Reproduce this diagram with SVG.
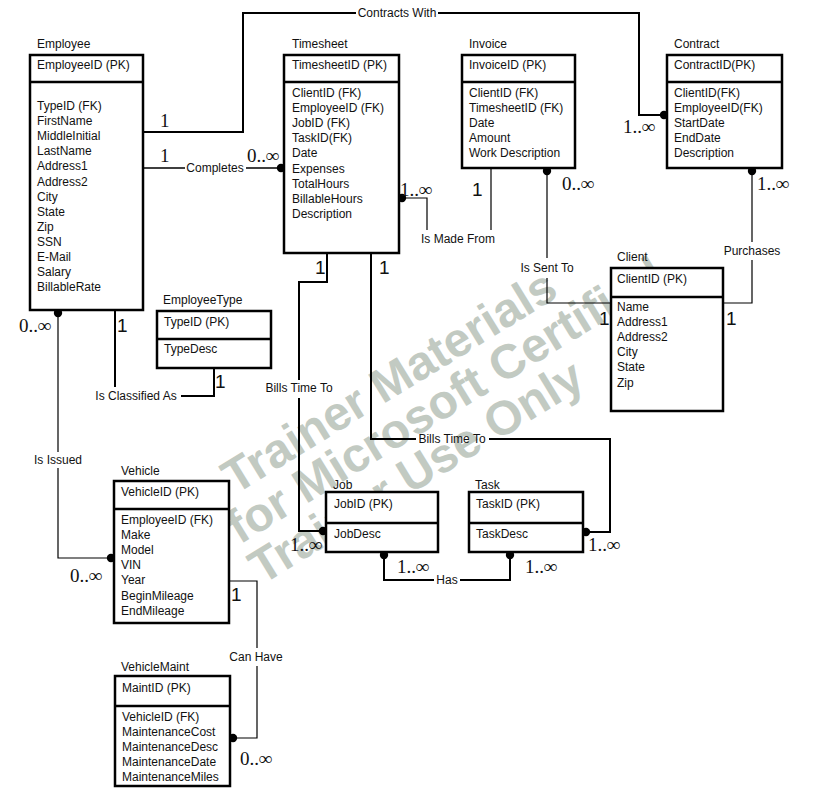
<svg xmlns="http://www.w3.org/2000/svg" width="815" height="800" viewBox="0 0 815 800">
  <style>
    .box { fill: #fff; stroke: #000; stroke-width: 2.5; }
    .sep { stroke: #000; stroke-width: 2.5; }
    .t { font-family: "Liberation Sans", Arial, sans-serif; font-size: 12px; fill: #111; }
    .lbl { font-family: "Liberation Sans", Arial, sans-serif; font-size: 12px; fill: #111; text-anchor: middle; }
    .c1 { font-family: "Liberation Sans", Arial, sans-serif; font-size: 19px; fill: #111; }
    .cs { font-family: "Liberation Serif", "Times New Roman", serif; font-size: 19px; fill: #111; }
    .inf { font-weight: bold; }
    .thick { fill: none; stroke: #000; stroke-width: 2; }
    .thin { fill: none; stroke: #000; stroke-width: 1.2; }
    .dot { fill: #000; }
    .wm { font-family: "Liberation Sans", Arial, sans-serif; font-weight: bold; font-size: 48px; fill: #c2cac2; }
  </style>

  <!-- background watermark -->
  <g id="watermark" transform="translate(235 495) rotate(-31.5)">
    <text class="wm" x="0" y="0">Trainer Materials</text>
    <text class="wm" x="-22" y="45">for Microsoft Certified</text>
    <text class="wm" x="-24" y="91">Trainer Use Only</text>
  </g>

  <!-- relationship lines -->
  <g id="connectors">
    <!-- Contracts With -->
    <path class="thick" d="M143,132 H243 V13 H356 M438,13 H639 V115 H664"/>
    <circle class="dot" cx="664" cy="115" r="4.2"/>
    <text class="lbl" x="397" y="17">Contracts With</text>

    <!-- Completes -->
    <path class="thick" style="stroke-width:1.6" d="M143,168 H185 M246,168 H281"/>
    <circle class="dot" cx="281" cy="168" r="4.2"/>
    <text class="lbl" x="215" y="172">Completes</text>

    <!-- Is Made From -->
    <path class="thin" d="M402,198 H427 V230 M491,168 V230"/>
    <circle class="dot" cx="402" cy="198" r="4.2"/>
    <text class="lbl" x="458" y="243">Is Made From</text>

    <!-- Is Sent To -->
    <path class="thin" d="M547,171 V258 M547,278 V303 H611"/>
    <circle class="dot" cx="547" cy="171" r="4.2"/>
    <text class="lbl" x="547" y="272">Is Sent To</text>

    <!-- Purchases -->
    <path class="thin" d="M752,171 V242 M752,260 V303 H723"/>
    <circle class="dot" cx="752" cy="171" r="4.2"/>
    <text class="lbl" x="752" y="255">Purchases</text>

    <!-- Is Classified As -->
    <path class="thick" d="M115,310 V387 M181,396 H214 V368"/>
    <text class="lbl" x="136" y="400">Is Classified As</text>

    <!-- Is Issued -->
    <path class="thin" d="M58,313 V452 M58,468 V558 H111"/>
    <circle class="dot" cx="58" cy="313" r="4.2"/>
    <circle class="dot" cx="111" cy="558" r="4.2"/>
    <text class="lbl" x="58" y="464">Is Issued</text>

    <!-- Can Have -->
    <path class="thin" d="M229,581 H257 V648 M257,666 V738 H233"/>
    <circle class="dot" cx="233" cy="738" r="4.2"/>
    <text class="lbl" x="256" y="661">Can Have</text>

    <!-- Bills Time To (Job) -->
    <path class="thick" d="M327,253 V282 H299 V380 M299,398 V531 H323"/>
    <circle class="dot" cx="323" cy="531" r="4.2"/>
    <text class="lbl" x="299" y="392">Bills Time To</text>

    <!-- Bills Time To (Task) -->
    <path class="thick" d="M371,253 V439 H416 M489,439 H610 V532 H586"/>
    <circle class="dot" cx="586" cy="532" r="4.2"/>
    <text class="lbl" x="452" y="443">Bills Time To</text>

    <!-- Has -->
    <path class="thick" d="M384,555 V580 H434 M460,580 H510 V555"/>
    <circle class="dot" cx="384" cy="555" r="4.2"/>
    <circle class="dot" cx="510" cy="555" r="4.2"/>
    <text class="lbl" x="447" y="584">Has</text>

    <!-- cardinalities -->
    <text class="cs" x="160" y="127">1</text>
    <text class="cs" x="160" y="162">1</text>
    <text class="cs" x="247" y="162">0..<tspan class="inf">∞</tspan></text>
    <text class="cs" x="400" y="196">1..<tspan class="inf">∞</tspan></text>
    <text class="c1" x="472" y="196">1</text>
    <text class="cs" x="562" y="190">0..<tspan class="inf">∞</tspan></text>
    <text class="cs" x="623" y="133">1..<tspan class="inf">∞</tspan></text>
    <text class="cs" x="757" y="190">1..<tspan class="inf">∞</tspan></text>
    <text class="c1" x="599" y="325">1</text>
    <text class="c1" x="726" y="325">1</text>
    <text class="c1" x="117" y="332">1</text>
    <text class="cs" x="19" y="332">0..<tspan class="inf">∞</tspan></text>
    <text class="c1" x="215" y="388">1</text>
    <text class="cs" x="70" y="582">0..<tspan class="inf">∞</tspan></text>
    <text class="c1" x="231" y="601">1</text>
    <text class="cs" x="240" y="765">0..<tspan class="inf">∞</tspan></text>
    <text class="c1" x="315" y="274">1</text>
    <text class="c1" x="379" y="274">1</text>
    <text class="cs" x="290" y="551">1..<tspan class="inf">∞</tspan></text>
    <text class="cs" x="588" y="551">1..<tspan class="inf">∞</tspan></text>
    <text class="cs" x="397" y="573">1..<tspan class="inf">∞</tspan></text>
    <text class="cs" x="525" y="573">1..<tspan class="inf">∞</tspan></text>
  </g>

  <!-- entities -->
  <g id="employee">
    <text class="t" x="37" y="48">Employee</text>
    <rect class="box" x="30" y="55" width="113" height="255"/>
    <line class="sep" x1="30" y1="82" x2="143" y2="82"/>
    <text class="t" x="37" y="69">EmployeeID (PK)</text>
    <text class="t" x="37" y="110">TypeID (FK)<tspan x="37" dy="15.1">FirstName</tspan><tspan x="37" dy="15.1">MiddleInitial</tspan><tspan x="37" dy="15.1">LastName</tspan><tspan x="37" dy="15.1">Address1</tspan><tspan x="37" dy="15.1">Address2</tspan><tspan x="37" dy="15.1">City</tspan><tspan x="37" dy="15.1">State</tspan><tspan x="37" dy="15.1">Zip</tspan><tspan x="37" dy="15.1">SSN</tspan><tspan x="37" dy="15.1">E-Mail</tspan><tspan x="37" dy="15.1">Salary</tspan><tspan x="37" dy="15.1">BillableRate</tspan></text>
  </g>

  <g id="timesheet">
    <text class="t" x="292" y="48">Timesheet</text>
    <rect class="box" x="284" y="55" width="115" height="198"/>
    <line class="sep" x1="284" y1="82" x2="399" y2="82"/>
    <text class="t" x="292" y="69">TimesheetID (PK)</text>
    <text class="t" x="292" y="97">ClientID (FK)<tspan x="292" dy="15.1">EmployeeID (FK)</tspan><tspan x="292" dy="15.1">JobID (FK)</tspan><tspan x="292" dy="15.1">TaskID(FK)</tspan><tspan x="292" dy="15.1">Date</tspan><tspan x="292" dy="15.1">Expenses</tspan><tspan x="292" dy="15.1">TotalHours</tspan><tspan x="292" dy="15.1">BillableHours</tspan><tspan x="292" dy="15.1">Description</tspan></text>
  </g>

  <g id="invoice">
    <text class="t" x="469" y="48">Invoice</text>
    <rect class="box" x="462" y="55" width="113" height="113"/>
    <line class="sep" x1="462" y1="82" x2="575" y2="82"/>
    <text class="t" x="469" y="69">InvoiceID (PK)</text>
    <text class="t" x="469" y="97">ClientID (FK)<tspan x="469" dy="15.1">TimesheetID (FK)</tspan><tspan x="469" dy="15.1">Date</tspan><tspan x="469" dy="15.1">Amount</tspan><tspan x="469" dy="15.1">Work Description</tspan></text>
  </g>

  <g id="contract">
    <text class="t" x="674" y="48">Contract</text>
    <rect class="box" x="667" y="55" width="115" height="113"/>
    <line class="sep" x1="667" y1="82" x2="782" y2="82"/>
    <text class="t" x="674" y="69">ContractID(PK)</text>
    <text class="t" x="674" y="97">ClientID(FK)<tspan x="674" dy="15.1">EmployeeID(FK)</tspan><tspan x="674" dy="15.1">StartDate</tspan><tspan x="674" dy="15.1">EndDate</tspan><tspan x="674" dy="15.1">Description</tspan></text>
  </g>

  <g id="client">
    <text class="t" x="617" y="261">Client</text>
    <rect class="box" x="611" y="268" width="112" height="143"/>
    <line class="sep" x1="611" y1="297" x2="723" y2="297"/>
    <text class="t" x="617" y="283">ClientID (PK)</text>
    <text class="t" x="617" y="311">Name<tspan x="617" dy="15.1">Address1</tspan><tspan x="617" dy="15.1">Address2</tspan><tspan x="617" dy="15.1">City</tspan><tspan x="617" dy="15.1">State</tspan><tspan x="617" dy="15.1">Zip</tspan></text>
  </g>

  <g id="employeetype">
    <text class="t" x="163" y="304">EmployeeType</text>
    <rect class="box" x="157" y="311" width="114" height="57"/>
    <line class="sep" x1="157" y1="339" x2="271" y2="339"/>
    <text class="t" x="164" y="326">TypeID (PK)</text>
    <text class="t" x="164" y="353">TypeDesc</text>
  </g>

  <g id="vehicle">
    <text class="t" x="121" y="475">Vehicle</text>
    <rect class="box" x="114" y="481" width="115" height="142"/>
    <line class="sep" x1="114" y1="509" x2="229" y2="509"/>
    <text class="t" x="121" y="496">VehicleID (PK)</text>
    <text class="t" x="121" y="524">EmployeeID (FK)<tspan x="121" dy="15.1">Make</tspan><tspan x="121" dy="15.1">Model</tspan><tspan x="121" dy="15.1">VIN</tspan><tspan x="121" dy="15.1">Year</tspan><tspan x="121" dy="15.1">BeginMileage</tspan><tspan x="121" dy="15.1">EndMileage</tspan></text>
  </g>

  <g id="job">
    <text class="t" x="333" y="489">Job</text>
    <rect class="box" x="326" y="492" width="112" height="60"/>
    <line class="sep" x1="326" y1="523" x2="438" y2="523"/>
    <text class="t" x="334" y="508">JobID (PK)</text>
    <text class="t" x="334" y="538">JobDesc</text>
  </g>

  <g id="task">
    <text class="t" x="475" y="489">Task</text>
    <rect class="box" x="469" y="492" width="114" height="60"/>
    <line class="sep" x1="469" y1="523" x2="583" y2="523"/>
    <text class="t" x="476" y="508">TaskID (PK)</text>
    <text class="t" x="476" y="538">TaskDesc</text>
  </g>

  <g id="vehiclemaint">
    <text class="t" x="121" y="671">VehicleMaint</text>
    <rect class="box" x="115" y="676" width="115" height="110"/>
    <line class="sep" x1="115" y1="706" x2="230" y2="706"/>
    <text class="t" x="122" y="692">MaintID (PK)</text>
    <text class="t" x="122" y="721">VehicleID (FK)<tspan x="122" dy="15.1">MaintenanceCost</tspan><tspan x="122" dy="15.1">MaintenanceDesc</tspan><tspan x="122" dy="15.1">MaintenanceDate</tspan><tspan x="122" dy="15.1">MaintenanceMiles</tspan></text>
  </g>
</svg>
